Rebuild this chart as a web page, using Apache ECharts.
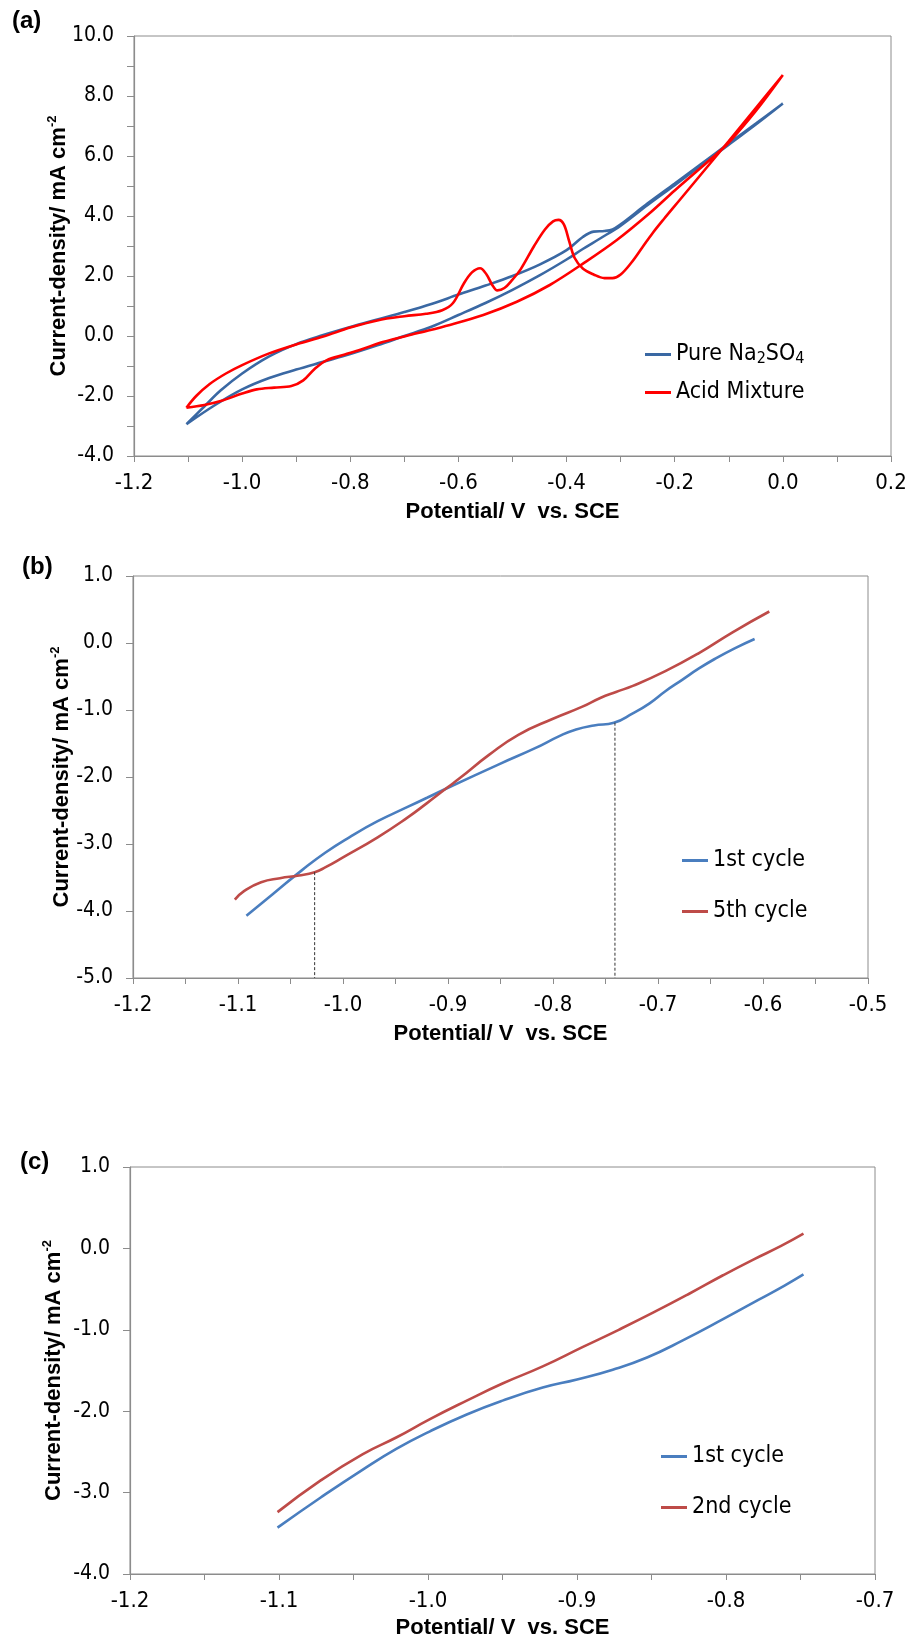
<!DOCTYPE html>
<html>
<head>
<meta charset="utf-8">
<script src="https://cdn.jsdelivr.net/npm/echarts@6/dist/echarts.min.js"></script>
<style>
html, body { margin: 0; padding: 0; background: #fff; }
#chart { width: 913px; height: 1641px; }
</style>
</head>
<body>
<div id="chart"></div>
<script>
// (a) cyclic voltammograms, anodic branch then cathodic branch
var naX = [-1.103, -1.07, -1.04, -1.0, -0.95, -0.9, -0.85, -0.8, -0.75, -0.7, -0.65, -0.6, -0.55, -0.5, -0.45, -0.4, -0.37, -0.35, -0.33, -0.315, -0.3, -0.25, -0.2, -0.15, -0.1, -0.05, 0.0,
           -0.05, -0.1, -0.15, -0.2, -0.25, -0.3, -0.338, -0.37, -0.4, -0.45, -0.5, -0.55, -0.6, -0.65, -0.7, -0.75, -0.8, -0.85, -0.9, -0.95, -1.0, -1.05, -1.103];
var naY = [-2.94, -2.35, -1.82, -1.25, -0.68, -0.27, 0.03, 0.3, 0.55, 0.8, 1.07, 1.38, 1.68, 2.0, 2.38, 2.86, 3.3, 3.48, 3.5, 3.55, 3.72, 4.42, 5.08, 5.75, 6.42, 7.08, 7.75,
           7.05, 6.38, 5.7, 5.03, 4.37, 3.68, 3.25, 2.9, 2.55, 2.02, 1.54, 1.1, 0.7, 0.31, 0.0, -0.31, -0.6, -0.86, -1.12, -1.4, -1.78, -2.3, -2.94];
var acidX = [-1.103, -1.085, -1.06, -1.03, -1.0, -0.95, -0.9, -0.85, -0.8, -0.75, -0.7, -0.66, -0.63, -0.61, -0.59, -0.575, -0.56, -0.548, -0.538, -0.528, -0.515, -0.5, -0.485, -0.46, -0.44, -0.425, -0.415, -0.405, -0.395, -0.385, -0.37, -0.35, -0.33, -0.315, -0.3, -0.28, -0.26, -0.24, -0.22, -0.19, -0.16, -0.13, -0.1, -0.05, 0.0,
             -0.05, -0.1, -0.13, -0.2, -0.246, -0.307, -0.369, -0.431, -0.492, -0.554, -0.616, -0.677, -0.74, -0.78, -0.81, -0.844, -0.866, -0.887, -0.909, -0.941, -0.973, -1.0, -1.038, -1.07, -1.103];
var acidY = [-2.39, -2.0, -1.6, -1.25, -0.97, -0.58, -0.28, -0.02, 0.28, 0.52, 0.66, 0.74, 0.86, 1.1, 1.75, 2.12, 2.26, 2.05, 1.72, 1.52, 1.6, 1.88, 2.22, 3.0, 3.55, 3.82, 3.87, 3.72, 3.15, 2.6, 2.25, 2.05, 1.93, 1.93, 2.05, 2.45, 2.95, 3.45, 3.9, 4.55, 5.2, 5.85, 6.5, 7.6, 8.7,
             7.5, 6.45, 5.95, 4.85, 4.1, 3.2, 2.42, 1.7, 1.14, 0.7, 0.37, 0.09, -0.2, -0.45, -0.62, -0.81, -1.1, -1.48, -1.67, -1.72, -1.78, -1.92, -2.16, -2.3, -2.39];

// (b)
var b1X = [-1.092, -1.067, -1.039, -1.017, -0.994, -0.967, -0.939, -0.92, -0.9, -0.85, -0.817, -0.794, -0.778, -0.761, -0.742, -0.724, -0.708, -0.693, -0.677, -0.661, -0.645, -0.627, -0.608];
var b1Y = [-4.07, -3.75, -3.39, -3.13, -2.9, -2.66, -2.45, -2.31, -2.16, -1.8, -1.57, -1.39, -1.29, -1.23, -1.19, -1.05, -0.9, -0.72, -0.55, -0.38, -0.23, -0.08, 0.06];
var b5X = [-1.103, -1.094, -1.078, -1.06, -1.042, -1.027, -1.017, -1.0, -0.967, -0.939, -0.92, -0.9, -0.889, -0.861, -0.833, -0.8, -0.772, -0.755, -0.74, -0.724, -0.693, -0.661, -0.629, -0.594];
var b5Y = [-3.83, -3.7, -3.57, -3.51, -3.47, -3.42, -3.35, -3.2, -2.9, -2.61, -2.39, -2.15, -2.02, -1.67, -1.37, -1.13, -0.95, -0.82, -0.73, -0.64, -0.42, -0.15, 0.16, 0.47];
var dropX = [-1.027, -0.741];
var dropTop = [-3.42, -1.19];

// (c)
var c1X = [-1.101, -1.072, -1.044, -1.021, -0.999, -0.974, -0.95, -0.923, -0.9, -0.876, -0.853, -0.829, -0.802, -0.778, -0.761, -0.748];
var c1Y = [-3.43, -3.06, -2.72, -2.46, -2.25, -2.04, -1.87, -1.71, -1.61, -1.49, -1.34, -1.13, -0.87, -0.63, -0.46, -0.32];
var c2X = [-1.101, -1.072, -1.044, -1.021, -0.999, -0.974, -0.95, -0.923, -0.896, -0.872, -0.849, -0.825, -0.802, -0.782, -0.763, -0.748];
var c2Y = [-3.24, -2.85, -2.53, -2.32, -2.1, -1.87, -1.66, -1.45, -1.21, -1.0, -0.79, -0.56, -0.33, -0.14, 0.03, 0.18];

var NARROW = "'Liberation Sans Narrow', 'Arial Narrow', 'DejaVu Sans Condensed', sans-serif";
var SANS = "'Liberation Sans', Arial, sans-serif";
var AX = '#8c8c8c';

function zip(xs, ys) {
  return xs.map(function (x, i) { return [x, ys[i]]; });
}
function fmt(v) {
  if (Math.abs(v) < 1e-9) return '0.0';
  return v.toFixed(1);
}

function xAxisFor(gi, min, max, step, gap) {
  return {
    type: 'value', gridIndex: gi, min: min, max: max, interval: step,
    axisLine: { show: true, onZero: false, lineStyle: { color: AX, width: 1.2 } },
    axisTick: { show: true, length: 6, lineStyle: { color: AX } },
    minorTick: { show: true, splitNumber: 2, length: 6, lineStyle: { color: AX } },
    splitLine: { show: false },
    axisLabel: { margin: 16, color: '#000', fontFamily: NARROW, fontSize: 22, formatter: fmt },
    name: 'Potential/ V  vs. SCE', nameLocation: 'middle', nameGap: gap, nameMoveOverlap: false,
    nameTextStyle: { color: '#000', fontFamily: SANS, fontWeight: 'bold', fontSize: 22 }
  };
}
function yAxisFor(gi, min, max, step, minor, gap) {
  return {
    type: 'value', gridIndex: gi, min: min, max: max, interval: step,
    axisLine: { show: true, onZero: false, lineStyle: { color: AX, width: 1.2 } },
    axisTick: { show: true, length: 7, lineStyle: { color: AX } },
    minorTick: { show: minor, splitNumber: 2, length: 7, lineStyle: { color: AX } },
    splitLine: { show: false },
    axisLabel: { margin: 20, color: '#000', fontFamily: NARROW, fontSize: 21, formatter: fmt },
    name: '{t|Current-density/ mA cm}{p|-2}', nameLocation: 'middle', nameRotate: 90,
    nameGap: gap, nameMoveOverlap: false,
    nameTextStyle: {
      color: '#000',
      rich: {
        t: { fontFamily: SANS, fontWeight: 'bold', fontSize: 22, color: '#000' },
        p: { fontFamily: SANS, fontWeight: 'bold', fontSize: 13, color: '#000', padding: [0, 0, 12, 0] }
      }
    }
  };
}
function curve(name, gi, xs, ys, color, sm) {
  return {
    name: name, type: 'line', xAxisIndex: gi, yAxisIndex: gi,
    data: zip(xs, ys), smooth: sm, symbol: 'none', silent: true,
    lineStyle: { color: color, width: 2.6 }, itemStyle: { color: color }
  };
}
function legendFor(name, left, cy) {
  return {
    data: [name], left: left, top: cy - 12, icon: 'rect', itemWidth: 26, itemHeight: 3,
    selectedMode: false,
    textStyle: {
      color: '#000', fontFamily: NARROW, fontSize: 23,
      rich: {
        n: { fontFamily: NARROW, fontSize: 23, color: '#000' },
        s: { fontFamily: NARROW, fontSize: 16, color: '#000', padding: [9, 0, 0, 0] }
      }
    },
    formatter: function (n) {
      return n === 'Pure Na2SO4' ? '{n|Pure Na}{s|2}{n|SO}{s|4}' : n;
    }
  };
}
function panelLabel(text, x, y) {
  return {
    type: 'text', left: x, top: y,
    style: { text: text, fill: '#000', font: 'bold 24px ' + SANS }
  };
}

var series = [
  curve('Pure Na2SO4', 0, naX, naY, '#3a68a3', 0.35),
  curve('Acid Mixture', 0, acidX, acidY, '#ff0000', 0.35),
  curve('1st cycle', 1, b1X, b1Y, '#4a7ebf', 0.5),
  curve('5th cycle', 1, b5X, b5Y, '#be4b48', 0.5),
  curve('1st cycle', 2, c1X, c1Y, '#4a7ebf', 0.5),
  curve('2nd cycle', 2, c2X, c2Y, '#be4b48', 0.5)
];
dropX.forEach(function (x, i) {
  series.push({
    type: 'line', xAxisIndex: 1, yAxisIndex: 1, silent: true, symbol: 'none',
    data: [[x, dropTop[i]], [x, -5]],
    lineStyle: { color: '#333', width: 1, type: [3, 2] }
  });
});

var chart = echarts.init(document.getElementById('chart'));
chart.setOption({
  backgroundColor: '#fff',
  animation: false,
  grid: [
    { left: 134, top: 36, width: 757, height: 420, show: true, borderColor: AX, borderWidth: 1 },
    { left: 133, top: 576, width: 735, height: 402, show: true, borderColor: AX, borderWidth: 1 },
    { left: 130, top: 1167, width: 745, height: 407, show: true, borderColor: AX, borderWidth: 1 }
  ],
  xAxis: [
    xAxisFor(0, -1.2, 0.2, 0.2, 45),
    xAxisFor(1, -1.2, -0.5, 0.1, 45),
    xAxisFor(2, -1.2, -0.7, 0.1, 43)
  ],
  yAxis: [
    yAxisFor(0, -4, 10, 2, true, 63),
    yAxisFor(1, -5, 1, 1, false, 59),
    yAxisFor(2, -4, 1, 1, false, 64)
  ],
  legend: [
    legendFor('Pure Na2SO4', 640, 350),
    legendFor('Acid Mixture', 640, 388),
    legendFor('1st cycle', 677, 856),
    legendFor('5th cycle', 677, 907),
    legendFor('1st cycle', 656, 1452),
    legendFor('2nd cycle', 656, 1503)
  ],
  graphic: [
    panelLabel('(a)', 12, 9),
    panelLabel('(b)', 22, 555),
    panelLabel('(c)', 20, 1150)
  ],
  series: series
});
</script>
</body>
</html>
